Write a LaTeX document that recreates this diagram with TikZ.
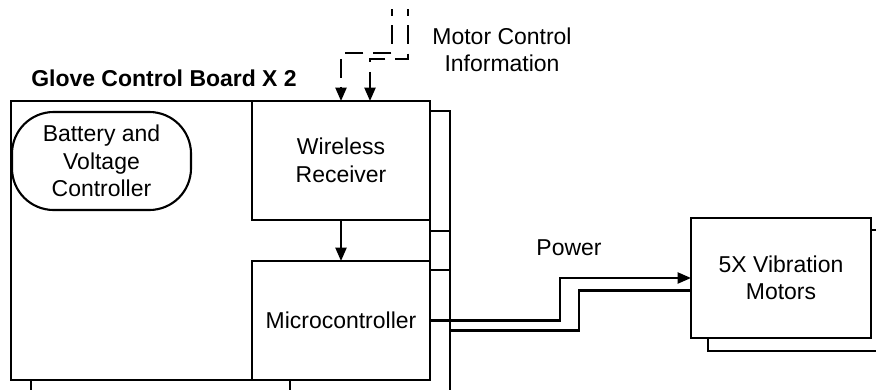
\documentclass[tikz,border=0pt]{standalone}
\usepackage{fontspec}
\setmainfont{Liberation Sans}
\usetikzlibrary{positioning, arrows.meta, calc}

\begin{document}
\begin{tikzpicture}[x=0.03cm, y=-0.03cm,
  every node/.style={font=\fontsize{19.6}{23.5}\selectfont},
  blk/.style={draw, rectangle, fill=white, line width=1.8pt, inner sep=0pt, outer sep=0pt, align=center},
  roundblk/.style={blk, rounded corners=1.25cm},
  conn/.style={line width=1.8pt},
  flow/.style={conn, -{Triangle[length=11.5pt, width=9.5pt]}},
  ctrl/.style={flow, dash pattern=on 16pt off 8pt, dash phase=10pt},
  lbl/.style={align=center, inner sep=0pt}]
\useasboundingbox (0,0) rectangle (876,389);
\clip (0,0) rectangle (876,389);
% second board, behind
\node[blk, minimum width=12.57cm, minimum height=8.4cm] (backboard) at (240.5,251) {};
\node[blk, minimum width=4.8cm, minimum height=3.6cm] (backrx) at (370,171) {};
\node[blk, minimum width=4.8cm, minimum height=3.63cm] (backmc) at (370,330.5) {};
% first board
\node[blk, minimum width=12.57cm, minimum height=8.37cm] (board) at (220.5,240.5) {};
\node[roundblk, minimum width=5.37cm, minimum height=2.94cm] (batt) at (101.5,161)
  {Battery and\\Voltage\\Controller};
\node[blk, minimum width=5.34cm, minimum height=3.57cm] (rx) at (341,160.5) {Wireless\\Receiver};
\node[blk, minimum width=5.34cm, minimum height=3.57cm] (mc) at (341,320.5) {Microcontroller};
\node[lbl, font=\fontsize{19.6}{23.5}\selectfont\bfseries] (title) at (164,78) {Glove Control Board X 2};
% motors
\node[blk, minimum width=5.46cm, minimum height=3.63cm] (backmotor) at (799,290.5) {};
\draw[flow] (backmc.east) -- ++(129,0) |- (backmotor.west);
\node[blk, minimum width=5.4cm, minimum height=3.6cm] (motor) at (781,278) {5X Vibration\\Motors};
\draw[flow] (mc.east) -- ++(130,0) |- (motor.west);
\node[lbl] (power) at (569,248) {Power};
% wireless input
\coordinate (infoA) at (392,9);
\coordinate (infoB) at (408,9);
\node[lbl] (info) at (502,50) {Motor Control\\Information};
\draw[ctrl] (infoA) |- ($(rx.north)+(0,-48)$) -- (rx.north);
\draw[ctrl] (infoB) |- ($(backrx.north |- rx.north)+(0,-42)$) -- (backrx.north |- rx.north);
\draw[flow] (rx.south) -- (mc.north);
\end{tikzpicture}
\end{document}
